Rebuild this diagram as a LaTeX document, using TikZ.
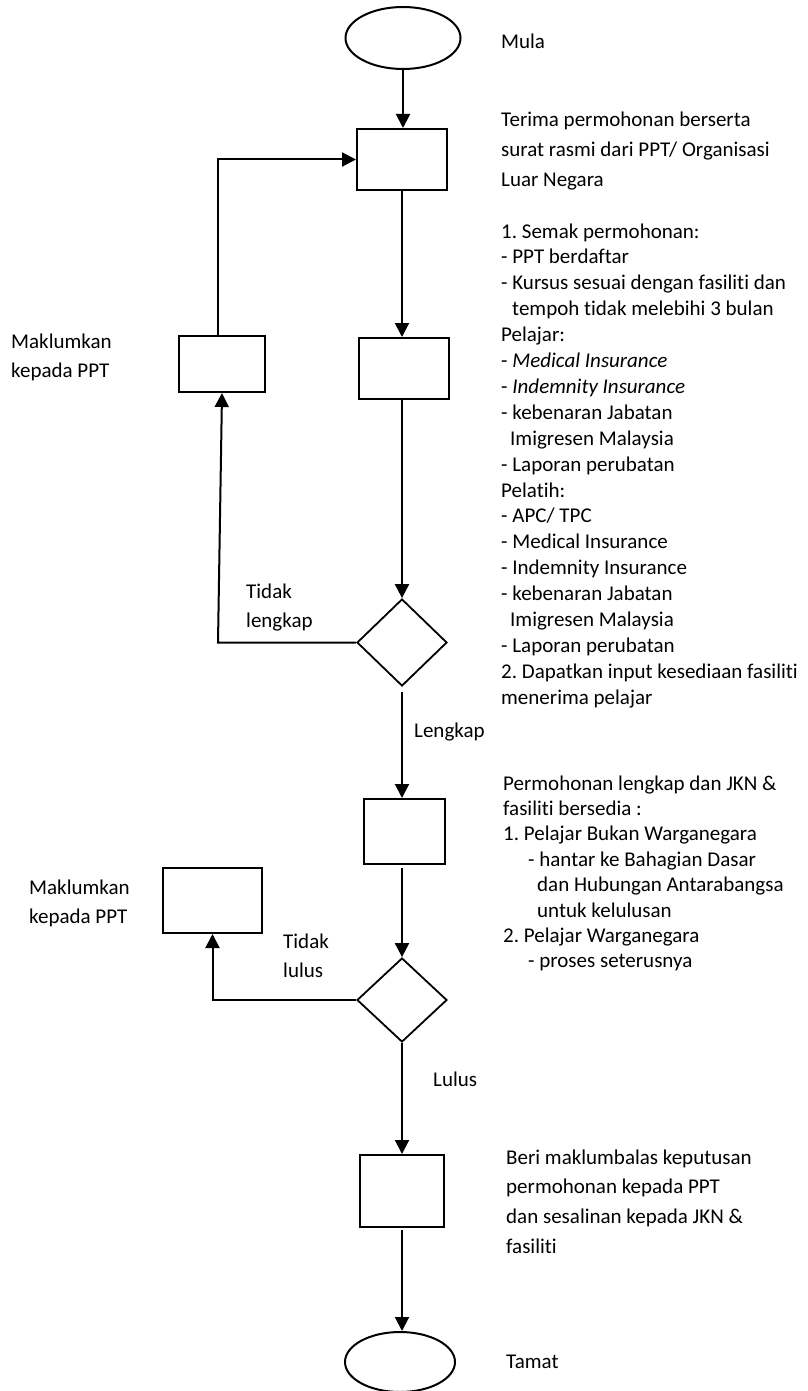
\documentclass[tikz,border=0pt]{standalone}
\usepackage{fontspec}
\setmainfont{Carlito}[Ligatures={NoCommon}]
\usetikzlibrary{shapes.geometric,arrows.meta}
\newcommand\mlines[2]{\vtop{\baselineskip=#1\lineskiplimit=-100pt\lineskip=0pt\relax #2}}
\frenchspacing
\begin{document}
\begin{tikzpicture}[x=1pt,y=-1pt,
  box/.style={draw,rectangle,line width=2pt,inner sep=0pt},
  term/.style={draw,ellipse,line width=2pt,inner sep=0pt},
  dec/.style={draw,diamond,line width=1.8pt,inner sep=0pt},
  arr/.style={line width=2pt,-{Triangle[length=14pt,width=14pt]}},
  txt/.style={inner sep=0pt,anchor=base west,font=\fontsize{21}{26}\selectfont}]
\useasboundingbox (0,0) rectangle (807,1391);

% shapes
\node[term,minimum width=115pt,minimum height=62pt] (start) at (403,38) {};
\node[box,minimum width=90pt,minimum height=61pt] (b1) at (402,159.5) {};
\node[box,minimum width=86pt,minimum height=56pt] (lb1) at (222,364) {};
\node[box,minimum width=90pt,minimum height=61pt] (b2) at (404,368.5) {};
\node[dec,minimum width=90pt,minimum height=87pt] (d1) at (402,642.5) {};
\node[box,minimum width=81pt,minimum height=65pt] (b3) at (404.5,831.5) {};
\node[box,minimum width=99pt,minimum height=65pt] (lb2) at (212.5,900.5) {};
\node[dec,minimum width=90pt,minimum height=84pt] (d2) at (402,1000) {};
\node[box,minimum width=84pt,minimum height=72pt] (b4) at (402,1191) {};
\node[term,minimum width=110pt,minimum height=60pt] (end) at (400,1362) {};

\coordinate (c1) at (218,642.5);
\coordinate (c2) at (218,159.5);

% connectors
\draw[arr] (start.south) -- (start.south |- b1.north);
\draw[arr] (b1.south) -- (b1.south |- b2.north);
\draw[arr] (b2.south -| d1.north) -- (d1.north);
\draw[arr,shorten <=5pt] (d1.south) -- (d1.south |- b3.north);
\draw[arr,shorten <=3pt] (b3.south -| d2.north) -- (d2.north);
\draw[arr] (d2.south) -- (d2.south |- b4.north);
\draw[arr,shorten <=2pt] (b4.south) -- (b4.south |- end.north);
\draw[arr] (d1.west) -- (c1) -- (lb1.south);
\draw[arr] (c1 |- lb1.north) -- (c2) -- (b1.west);
\draw[arr] (d2.west) -- (d2.west -| lb2.south) -- (lb2.south);

% texts
\node[txt] (tmula) at (501,49) {Mula};
\node[txt] (tterima) at (501,127) {\mlines{30pt}{%
  \hbox{Terima permohonan berserta}%
  \hbox{surat rasmi dari PPT/ Organisasi}%
  \hbox{Luar Negara}}};
\node[txt] (tsemak) at (501,238) {\mlines{25.9pt}{%
  \hbox{1. Semak permohonan:}%
  \hbox{- PPT berdaftar}%
  \hbox{- Kursus sesuai dengan fasiliti dan}%
  \hbox{\kern11pt tempoh tidak melebihi 3 bulan}%
  \hbox{Pelajar:}%
  \hbox{- \textit{Medical Insurance}}%
  \hbox{- \textit{Indemnity Insurance}}%
  \hbox{- kebenaran Jabatan}%
  \hbox{\kern9pt Imigresen Malaysia}%
  \hbox{- Laporan perubatan}%
  \hbox{Pelatih:}%
  \hbox{- APC/ TPC}%
  \hbox{- Medical Insurance}%
  \hbox{- Indemnity Insurance}%
  \hbox{- kebenaran Jabatan}%
  \hbox{\kern9pt Imigresen Malaysia}%
  \hbox{- Laporan perubatan}%
  \hbox{2. Dapatkan input kesediaan fasiliti}%
  \hbox{menerima pelajar}}};
\node[txt] (tmak1) at (11,348) {\mlines{29pt}{%
  \hbox{Maklumkan}\hbox{kepada PPT}}};
\node[txt] (ttl1) at (246,598) {\mlines{29pt}{%
  \hbox{Tidak}\hbox{lengkap}}};
\node[txt] (tlengkap) at (414,737) {Lengkap};
\node[txt] (tperm) at (503,790) {\mlines{25.4pt}{%
  \hbox{Permohonan lengkap dan JKN \&}%
  \hbox{fasiliti bersedia :}%
  \hbox{1. Pelajar Bukan Warganegara}%
  \hbox{\kern25pt - hantar ke Bahagian Dasar}%
  \hbox{\kern34pt dan Hubungan Antarabangsa}%
  \hbox{\kern34pt untuk kelulusan}%
  \hbox{2. Pelajar Warganegara}%
  \hbox{\kern25pt - proses seterusnya}}};
\node[txt] (tmak2) at (29,894) {\mlines{29pt}{%
  \hbox{Maklumkan}\hbox{kepada PPT}}};
\node[txt] (ttl2) at (283,948) {\mlines{29pt}{%
  \hbox{Tidak}\hbox{lulus}}};
\node[txt] (tlulus) at (433,1086) {Lulus};
\node[txt] (tberi) at (506,1164) {\mlines{29.7pt}{%
  \hbox{Beri maklumbalas keputusan}%
  \hbox{permohonan kepada PPT}%
  \hbox{dan sesalinan kepada JKN \&}%
  \hbox{fasiliti}}};
\node[txt] (ttamat) at (506,1368) {Tamat};
\end{tikzpicture}
\end{document}
